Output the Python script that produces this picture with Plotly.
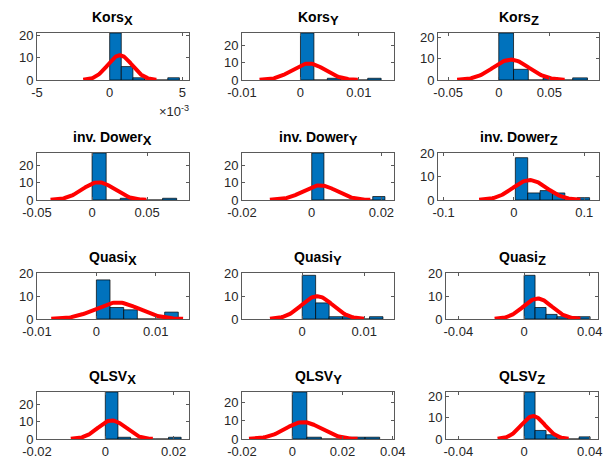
import numpy as np
import plotly.graph_objects as go

# ---------------- data ----------------
methods = ["Kors", "Kors", "Kors",
           "inv. Dower", "inv. Dower", "inv. Dower",
           "Quasi", "Quasi", "Quasi",
           "QLSV", "QLSV", "QLSV"]
leads = ["X", "Y", "Z"] * 4

bin_start = [0.0, 0.0, 0.0,
             0.0, 0.0, 0.002,
             0.0, 0.0, 0.0,
             0.0, 0.0, 0.0]
bin_width = [0.0008, 0.0023, 0.0146,
             0.0128, 0.0035, 0.0176,
             0.0023, 0.00217, 0.0067,
             0.0037, 0.0058, 0.0067]
counts = [[21, 6, 1, 0, 0, 1], [27, 0, 1, 0, 0, 1], [22, 5, 0, 1, 0, 1],
          [27, 0, 1, 0, 0, 1], [27, 0, 0, 0, 0, 2], [18, 3, 4, 3, 0, 1],
          [17, 5, 4, 0, 0, 3], [19, 7, 1, 1, 0, 1], [19, 5, 2, 1, 1, 1],
          [27, 1, 0, 0, 0, 1], [26, 1, 0, 0, 1, 1], [22, 4, 2, 0, 0, 1]]
fit_mu = [0.0007, 0.0014, 0.012,
          0.0058, 0.0024, 0.0225,
          0.0035, 0.0024, 0.0082,
          0.0019, 0.0044, 0.0055]
fit_sigma = [0.00084, 0.0028, 0.0177,
             0.0145, 0.0048, 0.024,
             0.0037, 0.00253, 0.0087,
             0.004, 0.0072, 0.0072]
x_ranges = [[-0.005, 0.00546], [-0.01, 0.016], [-0.06, 0.099],
            [-0.05, 0.088], [-0.02, 0.0236], [-0.108, 0.121],
            [-0.01, 0.0156], [-0.0097, 0.0148], [-0.0475, 0.045],
            [-0.02, 0.0245], [-0.02, 0.0405], [-0.0475, 0.045]]
y_max = [21, 27, 22,
         27, 27, 20,
         20, 20, 20,
         27, 26, 22]
x_ticks = [[-0.005, 0, 0.005], [-0.01, 0, 0.01], [-0.05, 0, 0.05],
           [-0.05, 0, 0.05], [-0.02, 0, 0.02], [-0.1, 0, 0.1],
           [-0.01, 0, 0.01], [-0.01, 0, 0.01], [-0.04, 0, 0.04],
           [-0.02, 0, 0.02], [-0.02, 0, 0.02, 0.04], [-0.04, 0, 0.04]]
x_ticklabels = [["-5", "0", "5"], ["-0.01", "0", "0.01"], ["-0.05", "0", "0.05"],
                ["-0.05", "0", "0.05"], ["-0.02", "0", "0.02"], ["-0.1", "0", "0.1"],
                ["-0.01", "0", "0.01"], ["-0.01", "0", "0.01"], ["-0.04", "0", "0.04"],
                ["-0.02", "0", "0.02"], ["-0.02", "0", "0.02", "0.04"], ["-0.04", "0", "0.04"]]
y_ticks = [0, 10, 20]

# ---------------- layout (pixel geometry) ----------------
W, H = 611, 461
row_top = [33, 153, 273, 392]
row_bot = [80, 200, 319, 439]
col_lr = {0: (37, 189), 1: (242, 394)}
col3_lr = [(438, 599), (438, 599), (446, 598), (446, 598)]

FONT = "Liberation Sans, Arial, Helvetica, sans-serif"
AX_COL = "#262626"
BOX_COL = "#5a5a5a"
BAR_COL = "#0072BD"

fig = go.Figure()
annotations = []
layout_axes = {}

for i in range(12):
    r, c = divmod(i, 3)
    k = "" if i == 0 else str(i + 1)
    left, right = col_lr[c] if c < 2 else col3_lr[r]
    top, bot = row_top[r], row_bot[r]

    bw = bin_width[i]
    cnt = counts[i]
    edges = [bin_start[i] + j * bw for j in range(len(cnt) + 1)]
    centers = [(edges[j] + edges[j + 1]) / 2 for j in range(len(cnt))]
    fig.add_trace(go.Bar(
        x=centers, y=cnt, width=[bw] * len(cnt),
        marker=dict(color=BAR_COL, line=dict(color="black", width=0.7)),
        xaxis="x" + k, yaxis="y" + k, showlegend=False, hoverinfo="skip"))

    n = sum(cnt)
    mu, s = fit_mu[i], fit_sigma[i]
    xs = np.linspace(mu - 3 * s, mu + 3 * s, 100)
    ys = n * bw * np.exp(-0.5 * ((xs - mu) / s) ** 2) / (s * np.sqrt(2 * np.pi))
    fig.add_trace(go.Scatter(
        x=xs, y=ys, mode="lines", line=dict(color="#FF0000", width=4),
        xaxis="x" + k, yaxis="y" + k, showlegend=False, hoverinfo="skip"))

    common = dict(ticks="inside", ticklen=3, tickcolor=BOX_COL, tickwidth=1,
                  showline=True, linecolor=BOX_COL, linewidth=1, mirror="ticks",
                  showgrid=False, zeroline=False, automargin=False,
                  tickfont=dict(family=FONT, size=13, color=AX_COL))
    layout_axes["xaxis" + k] = dict(
        domain=[left / W, right / W], range=x_ranges[i], anchor="y" + k,
        tickmode="array", tickvals=x_ticks[i], ticktext=x_ticklabels[i], **common)
    layout_axes["yaxis" + k] = dict(
        domain=[1 - bot / H, 1 - top / H], range=[0, y_max[i]], anchor="x" + k,
        tickmode="array", tickvals=y_ticks, ticktext=[str(v) for v in y_ticks], **common)

    annotations.append(dict(
        x=(left + right) / 2 / W, y=1 - (top - 3) / H, xref="paper", yref="paper",
        xanchor="center", yanchor="bottom", showarrow=False,
        text=(f"<b>{methods[i]}<sub><span style='font-size:13px'>{leads[i]}</span></sub></b>"),
        font=dict(family=FONT, size=14, color="black")))

# exponent label for the first panel
annotations.append(dict(
    x=191 / W, y=1 - 101 / H, xref="paper", yref="paper",
    xanchor="right", yanchor="top", showarrow=False,
    text="×10<sup>-3</sup>", font=dict(family=FONT, size=13, color=AX_COL)))

fig.update_layout(
    template="none",
    width=W, height=H, margin=dict(l=0, r=0, t=0, b=0, pad=0, autoexpand=False),
    paper_bgcolor="white", plot_bgcolor="white",
    annotations=annotations, barmode="overlay", showlegend=False, **layout_axes)

fig.write_html("out.html")
